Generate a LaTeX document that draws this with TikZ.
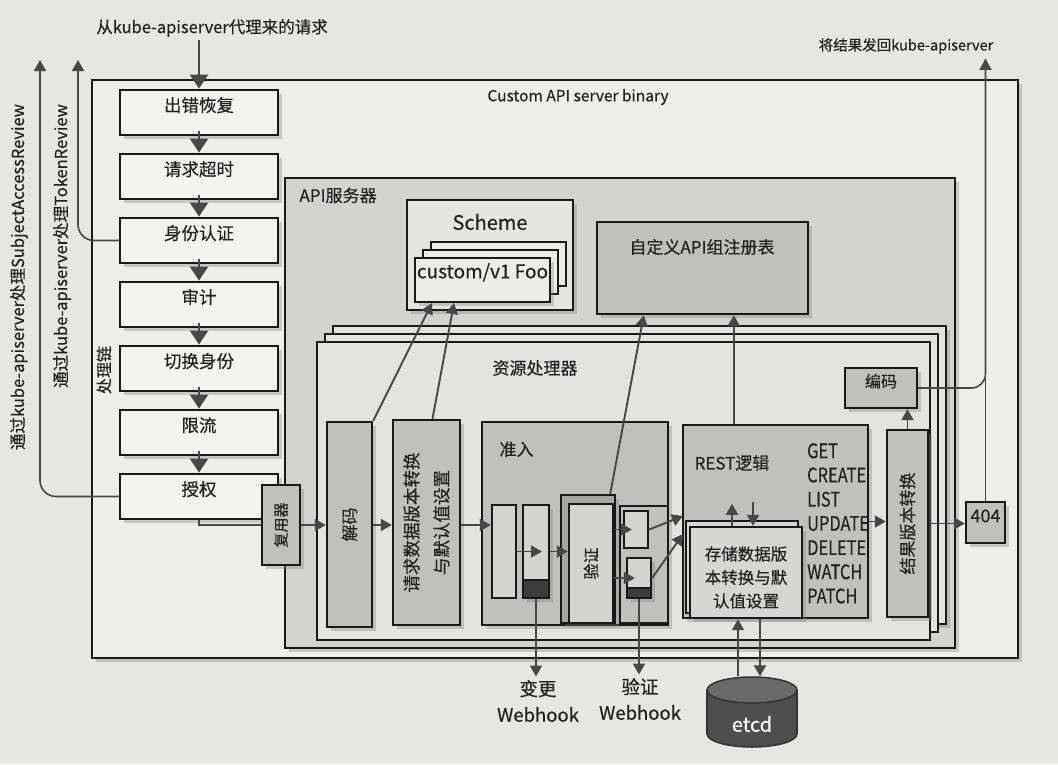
\documentclass[tikz,border=0pt]{standalone}
\usepackage{fontspec}
\setmainfont[FakeBold=0.4]{Noto Sans CJK SC}
\usetikzlibrary{fit,shadows,arrows.meta,calc,shapes.geometric}

\definecolor{paper}{HTML}{E6E6E3}
\definecolor{outerc}{HTML}{EEEEEC}
\definecolor{apic}{HTML}{D3D3D1}
\definecolor{stackc}{HTML}{E3E3E1}
\definecolor{schemec}{HTML}{E5E5E3}
\definecolor{fooc}{HTML}{ECECEA}
\definecolor{grayc}{HTML}{C0C0BE}
\definecolor{lightc}{HTML}{D3D3D1}
\definecolor{darkc}{HTML}{3C3C3C}
\definecolor{vbackc}{HTML}{A6A6A4}
\definecolor{storc}{HTML}{D6D6D4}
\definecolor{conn}{HTML}{474747}
\definecolor{etcdbody}{HTML}{4E4E4E}
\definecolor{etcdtopc}{HTML}{6A6A6A}
\definecolor{chainc}{HTML}{F3F3F1}
\definecolor{textc}{HTML}{222222}

\newcommand{\fs}[2]{\fontsize{#1}{#2}\selectfont}

\begin{document}
\begin{tikzpicture}[x=1pt,y=-1pt,
  every node/.style={text=textc},
  bx/.style={draw=black!90, line width=2.4pt, inner sep=0pt, fill=#1},
  bx/.default=grayc,
  sh/.style={drop shadow={opacity=0.35, shadow xshift=3.5pt, shadow yshift=-3.5pt}},
  chainbox/.style={bx=chainc, line width=2.8pt, sh, font=\fs{17.5}{20}},
  arr/.style={draw=conn, line width=1.9pt, -{Triangle[width=12pt,length=11pt]}},
  bigarr/.style={draw=conn, line width=2.6pt, -{Triangle[width=18pt,length=14pt]}},
  link/.style={draw=conn, line width=1.9pt},
  vlbl/.style={rotate=90, font=\fs{17}{20}},
]
\useasboundingbox (0,0) rectangle (1058,764);
\fill[paper] (0,0) rectangle (1058,764);

% custom API server binary
\node[bx=outerc, line width=2.6pt, sh, fit={(92,80) (1018,658)}] (outer) {};
\node[font=\fs{15.5}{18}] (binlbl) at (578,97) {Custom API server binary};

% handler chain
\node[chainbox, fit={(120,90) (278,135)}] (c1) {出错恢复};
\node[chainbox, fit={(120,154) (278,199)}] (c2) {请求超时};
\node[chainbox, fit={(120,218) (278,263)}] (c3) {身份认证};
\node[chainbox, fit={(120,282) (278,327)}] (c4) {审计};
\node[chainbox, fit={(120,346) (278,391)}] (c5) {切换身份};
\node[chainbox, fit={(120,410) (278,455)}] (c6) {限流};
\node[chainbox, fit={(120,474) (278,519)}] (c7) {授权};
\node[rotate=90, font=\fs{16}{19}] (chainlbl) at (104,370) {处理链};

\foreach \a/\b in {c1/c2,c2/c3,c3/c4,c4/c5,c5/c6,c6/c7}
  \draw[bigarr] ([yshift=5pt]\a.south) -- (\b.north);

% incoming request
\node[font=\fs{16.5}{19}] (inlbl) at (212,28) {从kube-apiserver代理来的请求};
\draw[bigarr] (inlbl.south -| c1.north) -- (c1.north);

% delegated reviews
\coordinate (tokTop) at (78,60);
\coordinate (sarTop) at (40,60);
\draw[arr, line width=1.6pt, rounded corners=16pt] (c3.west) -| (tokTop);
\draw[arr, line width=1.6pt, rounded corners=16pt] (c7.west) -| (sarTop);
\node[rotate=90, font=\fs{16.5}{19}] (toklbl) at (62,246) {通过kube-apiserver处理TokenReview};
\node[rotate=90, font=\fs{16.5}{19}] (sarlbl) at (19,277) {通过kube-apiserver处理SubjectAccessReview};

% API server
\node[bx=apic, sh, fit={(285,178) (955,648)}] (api) {};
\node[anchor=north west, font=\fs{17}{20}] (apilbl) at (296,184) {API服务器};

% scheme
\node[bx=schemec, sh, fit={(407,200) (573,310)}] (scheme) {};
\node[font=\fs{20}{24}] (schemelbl) at (490,222) {Scheme};
\node[bx=fooc, line width=2pt, fit={(431,242) (566,286)}] (foo3) {};
\node[bx=fooc, line width=2pt, fit={(423,250) (558,294)}] (foo2) {};
\node[bx=fooc, line width=2pt, sh, fit={(415,258) (550,302)}, font=\fs{19}{22}] (foo) {custom/v1 Foo};

% group registry
\node[bx, sh, fit={(597,222) (808,314)}] (reg) {};
\node[font=\fs{17}{20}] (reglbl) at (702,247) {自定义API组注册表};

% resource handlers
\node[bx=stackc, sh, fit={(333,326) (946,624)}] (rh3) {};
\node[bx=stackc, fit={(325,334) (938,632)}] (rh2) {};
\node[bx=stackc, fit={(317,342) (930,640)}] (rh) {};
\node[font=\fs{17}{20}] (rhlbl) at (535,368) {资源处理器};

% mux
\node[bx, sh, fit={(262,485) (300,565)}] (mux) {};
\node[vlbl, font=\fs{15}{18}] at (mux.center) {复用器};

% decoding and conversion
\node[bx, sh, fit={(327,422) (372,627)}] (dec) {};
\node[vlbl] at (dec.center) {解码};
\node[bx, sh, fit={(393,420) (460,625)}] (conv) {};
\node[vlbl, align=center, font=\fs{17.5}{30}] at (conv.center) {请求数据版本转换\\与默认值设置};

% admission
\node[bx, sh, fit={(482,422) (668,625)}] (adm) {};
\node[anchor=north west, font=\fs{17}{20}] (admlbl) at (496,438) {准入};
\node[bx=lightc, fit={(492,505) (516,598)}] (A) {};
\node[bx=lightc, sh, fit={(523,505) (549,598)}] (B) {};
\node[bx=darkc, fit={(523,580) (549,598)}] (Bd) {};
\node[bx=vbackc, sh, fit={(561,495) (615,623)}] (vback) {};
\node[bx=lightc, fit={(569,504) (613,623)}] (vfront) {};
\node[vlbl, font=\fs{16}{19}] at (vfront.center) {验证};
\node[bx, fit={(620,506) (668,623)}] (cdf) {};
\node[bx=lightc, fit={(624,511) (648,548)}] (C) {};
\node[bx=lightc, sh, fit={(627,558) (651,598)}] (D) {};
\node[bx=darkc, fit={(627,588) (651,598)}] (Dd) {};

% REST logic
\node[bx, sh, fit={(683,425) (868,618)}] (rest) {};
\node[font=\fs{17}{20}] (restlbl) at (732,463) {REST逻辑};
\node[bx=storc, fit={(686,521) (798,613)}] (stback) {};
\node[bx=storc, sh, fit={(690,527) (802,618)}] (stfront) {};
\node[align=center, font=\fs{16.5}{23.5}] (stlbl) at ([yshift=-5pt]stfront.center) {存储数据版\\本转换与默\\认值设置};
\node[anchor=north west, inner sep=0pt, font=\fs{20}{24.2}] (ops) at (807,441)
  {\scalebox{0.82}[1]{\begin{tabular}{@{}l@{}}GET\\CREATE\\LIST\\UPDATE\\DELETE\\WATCH\\PATCH\end{tabular}}};

% output conversion, encoding, 404
\node[bx, sh, fit={(887,430) (928,617)}] (res) {};
\node[vlbl] at (res.center) {结果版本转换};
\node[bx, sh, fit={(845,368) (917,408)}, font=\fs{16}{19}] (enc) {编码};
\node[bx, sh, fit={(966,502) (1005,543)}, font=\fs{18}{21}] (n404) {404};

% request flow
\draw[link] (c7.south) |- (mux.west);
\draw[arr] (mux.east) -- (mux.east -| dec.west);
\draw[arr] (dec.east |- mux.east) -- (mux.east -| conv.west);
\draw[arr] (conv.east |- mux.east) -- (mux.east -| A.west);
\draw[arr, shorten >=-6pt] (A.east) -- (B.center);
\draw[arr] (B.east) -- (B.east -| vfront.west);
\draw[arr, shorten >=-9pt] (vfront.east |- C.center) -- (C.west);
\draw[arr, shorten >=-9pt] (vfront.east |- D.center) -- (D.west);
\coordinate (rin1) at (683,516);
\coordinate (rin2) at (683,534);
\draw[arr] (C.east) -- (rin1);
\draw[arr] (D.east) -- (rin2);

% REST <-> storage conversion
\path ([xshift=-14pt]stfront.north) coordinate (stup);
\path ([xshift=7pt]stfront.north) ++(0,-24) coordinate (stdn);
\draw[arr] (stup) -- ++(0,-22);
\draw[arr] (stdn) -- (stdn |- stfront.north);

\draw[arr] (rest.east) -- (rest.east -| res.west);
\draw[arr] (res.north) -- (res.north |- enc.south);
\draw[arr] (res.east) -- (res.east -| n404.west);

% response back to kube-apiserver
\path (n404.north) ++(0,-442) coordinate (retTop);
\draw[link, line width=1.6pt, rounded corners=14pt] (enc.east) -| (retTop);
\draw[arr, line width=1.6pt] (n404.north) -- (retTop);
\node[font=\fs{14.5}{17}] (retlbl) at (906,46) {将结果发回kube-apiserver};

% scheme lookups
\draw[arr] (dec.north east) -- ($(foo.south west)+(18,0)$);
\draw[arr] ($(conv.north)+(6,0)$) -- ($(foo.south west)+(40,0)$);

% registry lookups
\draw[arr] ($(vback.north east)+(-6,0)$) -- ($(reg.south west)+(48,0)$);
\path ($(rest.north west)+(52,0)$) coordinate (restup);
\draw[arr] (restup) -- (restup |- reg.south);

% webhooks
\node[align=center, font=\fs{18.5}{26}] (mwh) at (538,701) {变更\\Webhook};
\node[align=center, font=\fs{18.5}{26}] (vwh) at (640,699) {验证\\Webhook};
\draw[arr] (Bd.south) -- (Bd.south |- mwh.north);
\draw[arr] (Dd.south) -- (Dd.south |- vwh.north);

% etcd
\node[ellipse, fill=etcdbody, draw=black!80, line width=1.5pt, minimum width=90pt, minimum height=26pt, inner sep=0pt] (etcdbot) at (752,734) {};
\fill[etcdbody] (707,690) rectangle (797,734);
\draw[black!80, line width=1.5pt] (707,690) -- (707,734) (797,690) -- (797,734);
\node[ellipse, fill=etcdtopc, draw=black!80, line width=1.5pt, minimum width=90pt, minimum height=26pt, inner sep=0pt] (etcdtop) at (752,690) {};
\node[text=white, font=\fs{20}{24}] (etcd) at (752,724) {etcd};
\path ([xshift=-14pt]etcdtop.north) coordinate (eu);
\path ([xshift=8pt]etcdtop.north) coordinate (ed);
\draw[arr] (eu) -- (eu |- stfront.south);
\draw[arr] (ed |- stfront.south) -- (ed);

\end{tikzpicture}
\end{document}
